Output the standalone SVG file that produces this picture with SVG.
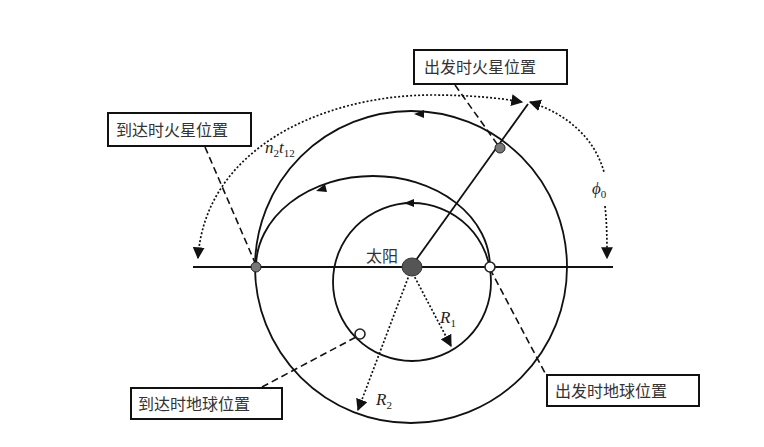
<svg xmlns="http://www.w3.org/2000/svg" width="764" height="447" viewBox="0 0 764 447">
<style>
.l{fill:none;stroke:#111;stroke-width:1.8}
.d{fill:none;stroke:#111;stroke-width:1.6;stroke-dasharray:7 4}
.o{fill:none;stroke:#111;stroke-width:1.7;stroke-dasharray:2 2}
.box{fill:#fff;stroke:#111;stroke-width:2}
.t{font-family:"Noto Sans CJK SC","Liberation Sans",sans-serif;font-size:16px;fill:#333}
.m{font-family:"Liberation Serif",serif;font-style:italic;font-size:17px;fill:#222}
.s{font-size:11px;font-style:normal}
</style>
<defs>
<marker id="a" viewBox="0 0 10 10" refX="9" refY="5" markerWidth="7" markerHeight="7" orient="auto-start-reverse"><path d="M0,0L10,5L0,10z" fill="#111"/></marker>
</defs>
<rect width="764" height="447" fill="#fff"/>
<g id="connectors">
<line class="l" x1="193" y1="267" x2="613" y2="267"/>
<circle class="l" cx="411" cy="267" r="156"/>
<circle class="l" cx="412" cy="282" r="79"/>
<path class="l" d="M490,267 A117,91 0 0 0 256,267"/>
<path d="M414,114 L424,110 L424,118z" fill="#111"/>
<path d="M404,203 L414,199 L414,207z" fill="#111"/>
<path d="M316,191 L325,184 L327,192z" fill="#111"/>
<line class="l" x1="411" y1="267" x2="528" y2="104"/>
<path class="o" d="M198,258 C205,150 320,96 430,95 C470,95 500,98 522,102" marker-start="url(#a)" marker-end="url(#a)"/>
<path class="o" d="M530,102 C570,115 595,140 604,172" marker-start="url(#a)"/>
<path class="o" d="M605,206 C607,225 607,240 607,258" marker-end="url(#a)"/>
<path class="o" d="M411,270 L451,346" marker-end="url(#a)"/>
<path class="o" d="M411,270 L358,410" marker-end="url(#a)"/>
<line class="d" x1="455" y1="85" x2="500" y2="148"/>
<line class="d" x1="205" y1="147" x2="256" y2="265"/>
<line class="d" x1="262" y1="387" x2="358" y2="336"/>
<line class="d" x1="490" y1="269" x2="545" y2="373"/>
</g>
<g id="sun"><ellipse cx="412" cy="267" rx="10" ry="9" fill="#555" stroke="#333"/><text class="t" x="366" y="262">太阳</text></g>
<g id="mars-depart"><circle cx="500" cy="148" r="5" fill="#777" stroke="#222"/></g>
<g id="mars-arrive"><circle cx="256" cy="267" r="5" fill="#777" stroke="#222"/></g>
<g id="earth-depart"><circle cx="490" cy="267" r="5" fill="#fff" stroke="#222" stroke-width="1.6"/></g>
<g id="earth-arrive"><circle cx="360" cy="334" r="5" fill="#fff" stroke="#222" stroke-width="1.6"/></g>
<g id="label-mars-depart"><rect class="box" x="414" y="50" width="153" height="34"/><text class="t" x="424" y="73">出发时火星位置</text></g>
<g id="label-mars-arrive"><rect class="box" x="108" y="113" width="143" height="33"/><text class="t" x="116" y="136">到达时火星位置</text></g>
<g id="label-earth-arrive"><rect class="box" x="131" y="388" width="151" height="31"/><text class="t" x="138" y="410">到达时地球位置</text></g>
<g id="label-earth-depart"><rect class="box" x="547" y="375" width="152" height="31"/><text class="t" x="555" y="397">出发时地球位置</text></g>
<text class="m" x="265" y="153">n<tspan class="s" dy="4">2</tspan><tspan dy="-4">t</tspan><tspan class="s" dy="4">12</tspan></text>
<text class="m" x="592" y="194">ϕ<tspan class="s" dy="4">0</tspan></text>
<text class="m" x="440" y="323">R<tspan class="s" dy="4">1</tspan></text>
<text class="m" x="376" y="405">R<tspan class="s" dy="4">2</tspan></text>
</svg>
